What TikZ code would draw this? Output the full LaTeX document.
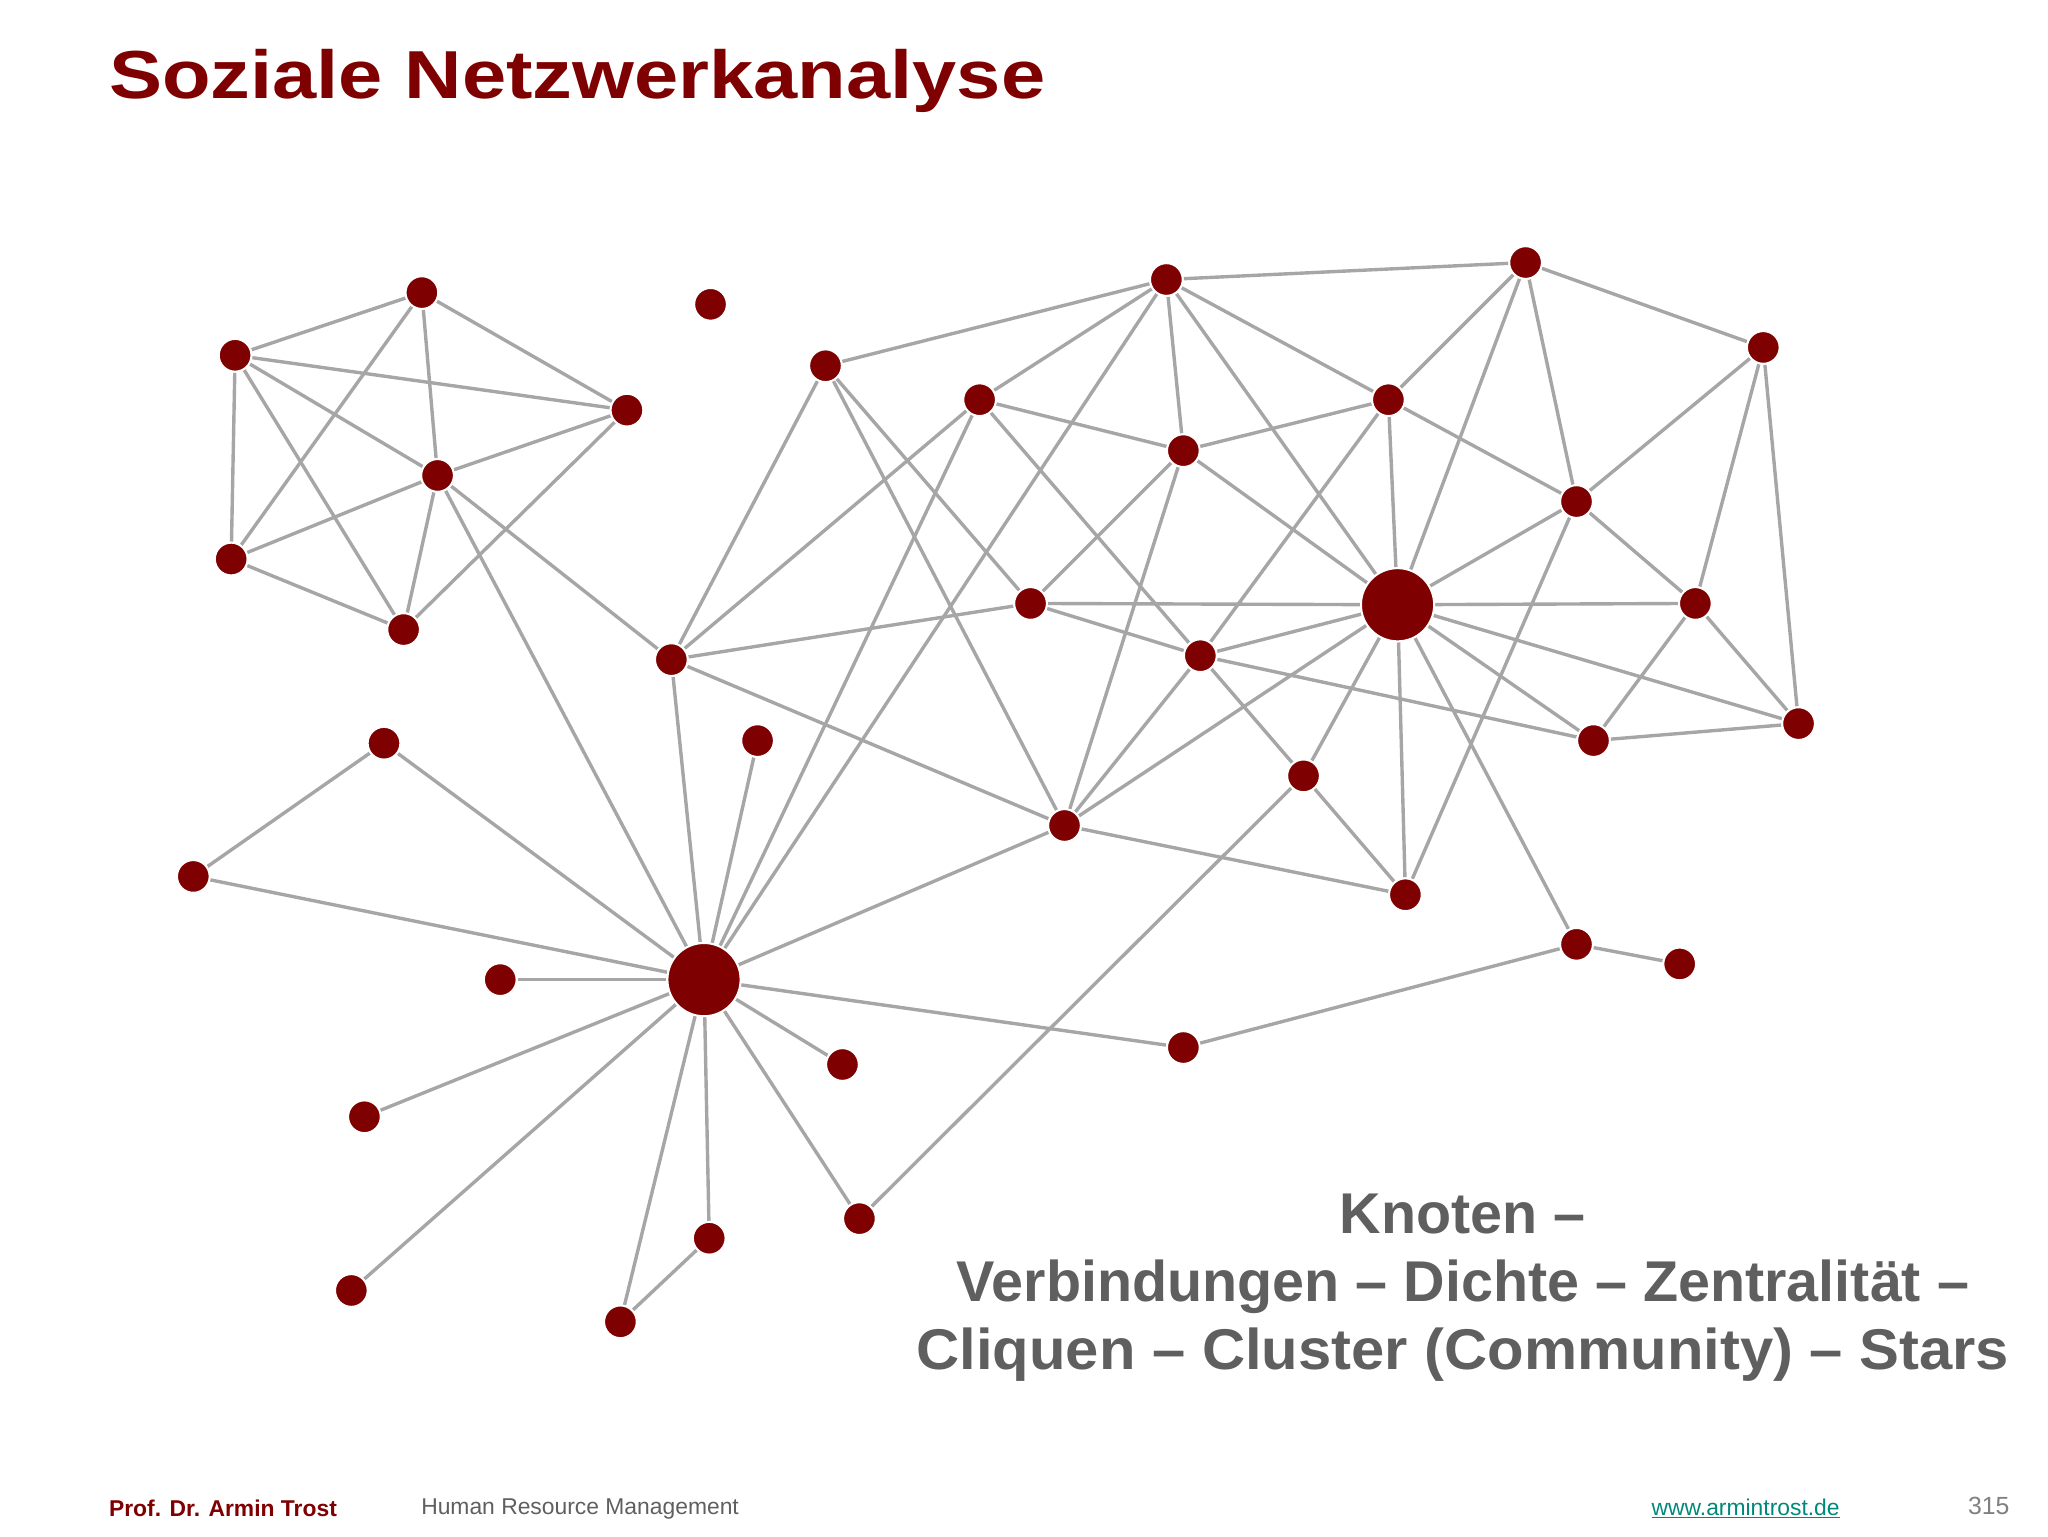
\documentclass[tikz,border=0pt]{standalone}
\usepackage{fontspec}
\setmainfont{Liberation Sans}
\definecolor{dred}{HTML}{7F0000}
\definecolor{edg}{HTML}{A6A6A6}
\definecolor{tgray}{HTML}{5F5F5F}
\definecolor{teal}{HTML}{00897B}
\begin{document}
\begin{tikzpicture}[x=1pt,y=-1pt,
 v/.style={circle,fill=dred,draw=white,line width=1.5pt,minimum size=25pt,inner sep=0pt},
 hub/.style={v,minimum size=56pt},
 e/.style={draw=edg,line width=2.6pt}]
\useasboundingbox (0,0) rectangle (1568,1176);
\node[anchor=west,text=dred,font=\fontsize{52}{60}\selectfont\bfseries] (title) at (80,62) {\scalebox{1.17}[1]{Soziale Netzwerkanalyse}};
\foreach \n/\x/\y in {A1/323/224,A2/180/272,A3/480/314,A4/335/364,A5/177/428,A6/309/482,iso/544/233,
B/632/280,C/750/306,D/893/214,E/1168/201,F/1350/266,G/906/345,H/1063/306,I/1207/384,J/789/462,
L/1298/462,M/919/502,N/514/505,O/1220/567,P/1377/554,Q/998/594,R/815/632,S/1076/685,T/1207/723,
U/1286/738,V/906/802,W/658/933,X/645/815,Y/543/948,Z/475/1012,a/294/569,b/148/671,c/383/750,
d/279/855,ee/269/988,f/580/567}
 \node[v] (\n) at (\x,\y) {};
\node[hub] (K) at (1070,463) {};
\node[hub] (Hub) at (539,750) {};
\foreach \p/\q in {A1/A2,A1/A3,A1/A4,A1/A5,A2/A3,A2/A4,A2/A5,A2/A6,A4/A3,A4/A5,A4/A6,A5/A6,A3/A6,A4/N,A4/Hub,
B/D,B/N,B/J,B/R,C/N,C/Hub,C/G,C/Q,D/E,D/C,D/G,D/H,D/K,D/Hub,E/F,E/H,E/I,E/K,F/I,F/L,F/P,
G/H,G/J,G/K,G/R,H/K,H/I,H/M,I/L,I/K,I/S,J/N,J/K,J/M,K/L,K/M,K/O,K/P,K/Q,K/S,K/T,K/R,
L/O,L/P,O/P,M/O,M/R,N/R,N/Hub,Q/S,Q/W,R/S,R/Hub,Hub/a,Hub/b,Hub/c,Hub/d,Hub/ee,Hub/f,Hub/X,Hub/Y,Hub/Z,Hub/W,Hub/V,
a/b,Y/Z,V/T,T/U}
 \path[e] (\p) -- (\q);
\foreach \n/\x/\y in {A1/323/224,A2/180/272,A3/480/314,A4/335/364,A5/177/428,A6/309/482,iso/544/233,
B/632/280,C/750/306,D/893/214,E/1168/201,F/1350/266,G/906/345,H/1063/306,I/1207/384,J/789/462,
L/1298/462,M/919/502,N/514/505,O/1220/567,P/1377/554,Q/998/594,R/815/632,S/1076/685,T/1207/723,
U/1286/738,V/906/802,W/658/933,X/645/815,Y/543/948,Z/475/1012,a/294/569,b/148/671,c/383/750,
d/279/855,ee/269/988,f/580/567}
 \node[v] at (\x,\y) {};
\node[hub] at (1070,463) {};
\node[hub] at (539,750) {};
\node[align=center,text=tgray,font=\fontsize{44}{52}\selectfont\bfseries] (txt) at (1120,986)
 {Knoten –\\Verbindungen – Dichte – Zentralität –\\\scalebox{1.04}[1]{Cliquen – Cluster (Community) – Stars}};
\node[anchor=west,text=dred,font=\fontsize{17.5}{20}\selectfont\bfseries] (f1) at (80,1155) {Prof. Dr. Armin Trost};
\node[anchor=west,text=tgray,font=\fontsize{17.5}{20}\selectfont] (f2) at (319,1155) {Human Resource Management};
\node[anchor=west,text=teal,font=\fontsize{17.5}{20}\selectfont] (f3) at (1261,1155) {\underline{www.armintrost.de}};
\node[anchor=east,text=gray,font=\fontsize{19}{22}\selectfont] (f4) at (1542,1153) {315};
\end{tikzpicture}
\end{document}
